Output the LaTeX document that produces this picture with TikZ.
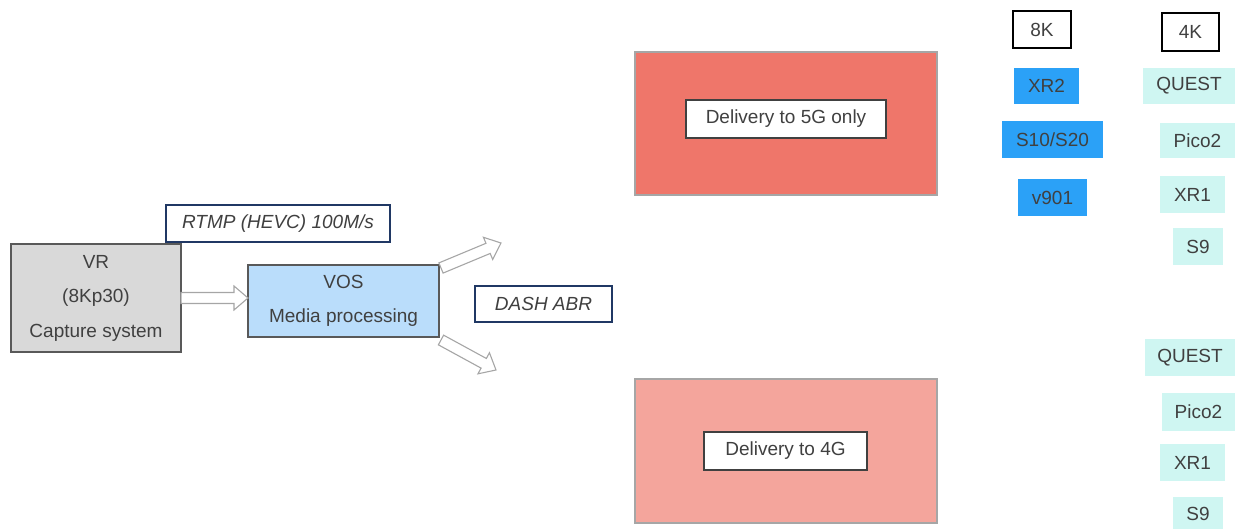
\documentclass[tikz,border=0pt]{standalone}
\usepackage{fontspec}
\setmainfont{Liberation Sans}
\usetikzlibrary{calc}

\definecolor{txt}{HTML}{404040}
\definecolor{capfill}{HTML}{D9D9D9}
\definecolor{edgegray}{HTML}{595959}
\definecolor{vosfill}{HTML}{BADDFB}
\definecolor{navy}{HTML}{203864}
\definecolor{redfill}{HTML}{EF766A}
\definecolor{pinkfill}{HTML}{F4A59C}
\definecolor{pathgray}{HTML}{A6A6A6}
\definecolor{devblue}{HTML}{2BA1F7}
\definecolor{devcyan}{HTML}{CFF6F2}

% hollow block arrow from #1 to #2 (shaft half width 5.5, head half width 12, head length 14)
\newcommand\hollowarrow[2]{%
  \coordinate (hb) at ($(#2)!14pt!(#1)$);
  \draw[blockarrow]
    ($(#1)!5.5pt!90:(#2)$) -- ($(hb)!5.5pt!90:(#2)$) -- ($(hb)!12pt!90:(#2)$)
    -- (#2)
    -- ($(hb)!12pt!-90:(#2)$) -- ($(hb)!5.5pt!-90:(#2)$) -- ($(#1)!5.5pt!-90:(#2)$) -- cycle;}

\begin{document}
\begin{tikzpicture}[x=1pt,y=-1pt,
  every node/.style={inner sep=0pt, outer sep=0pt, text=txt,
    font=\fontsize{19}{34.5}\selectfont},
  procbox/.style={draw=edgegray, line width=1.6pt, align=center},
  tagbox/.style={draw=navy, line width=1.2pt, fill=white,
    font=\fontsize{19}{23}\selectfont\itshape},
  zonebox/.style={draw=pathgray, line width=1.3pt},
  labelbox/.style={draw=txt, line width=1.4pt, fill=white},
  resbox/.style={draw=black, line width=1.6pt, fill=white},
  hibox/.style={fill=devblue},
  lobox/.style={fill=devcyan},
  blockarrow/.style={draw=pathgray, line width=1.1pt, fill=white, line join=miter}
]
\useasboundingbox (0,0) rectangle (1235,529);

% capture and processing
\node[procbox, fill=capfill, minimum width=170, minimum height=108] (vr) at (96,298)
  {VR\\(8Kp30)\\Capture system};
\node[procbox, fill=vosfill, minimum width=191, minimum height=72] (vos) at (343.5,301)
  {VOS\\Media processing};
\node[tagbox, minimum width=224, minimum height=37] (rtmp) at (278,223.5) {RTMP (HEVC) 100M/s};
\node[tagbox, minimum width=137, minimum height=36] (dash) at (543.5,304) {DASH ABR};

% delivery zones
\node[zonebox, fill=redfill, minimum width=302, minimum height=143] (z5g) at (786,123.5) {};
\node[labelbox, minimum width=200, minimum height=38] (l5g) at (786,119) {Delivery to 5G only};
\node[zonebox, fill=pinkfill, minimum width=302, minimum height=144] (z4g) at (786,451) {};
\node[labelbox, minimum width=163, minimum height=38] (l4g) at (785.5,451) {Delivery to 4G};

% resolution headers
\node[resbox, minimum width=58, minimum height=37] (r8k) at (1042,29.5) {8K};
\node[resbox, minimum width=57, minimum height=38] (r4k) at (1190.5,32) {4K};

% 8K devices
\node[hibox, minimum width=65, minimum height=36] (xr2) at (1046.5,86) {XR2};
\node[hibox, minimum width=101, minimum height=37] (s10) at (1052.5,139.5) {S10/S20};
\node[hibox, minimum width=69, minimum height=37] (v901) at (1052.5,197.5) {v901};

% 4K devices, 5G side
\node[lobox, minimum width=92, minimum height=36] (questa) at (1189,86) {QUEST};
\node[lobox, minimum width=75, minimum height=35] (picoa) at (1197.5,140.5) {Pico2};
\node[lobox, minimum width=65, minimum height=37] (xr1a) at (1192.5,194.5) {XR1};
\node[lobox, minimum width=50, minimum height=37] (s9a) at (1198,246.5) {S9};

% 4K devices, 4G side
\node[lobox, minimum width=90, minimum height=37] (questb) at (1190,357.5) {QUEST};
\node[lobox, minimum width=73, minimum height=38] (picob) at (1198.5,412) {Pico2};
\node[lobox, minimum width=65, minimum height=37] (xr1b) at (1192.5,462.5) {XR1};
\node[lobox, minimum width=50, minimum height=34] (s9b) at (1198,514) {S9};

% block arrows
\coordinate (upfrom) at (441,268);
\coordinate (upto) at (501,243);
\coordinate (downfrom) at (441,340);
\coordinate (downto) at (496,370);
\hollowarrow{vr.east}{vos.west |- vr.east}
\hollowarrow{upfrom}{upto}
\hollowarrow{downfrom}{downto}
\end{tikzpicture}
\end{document}
